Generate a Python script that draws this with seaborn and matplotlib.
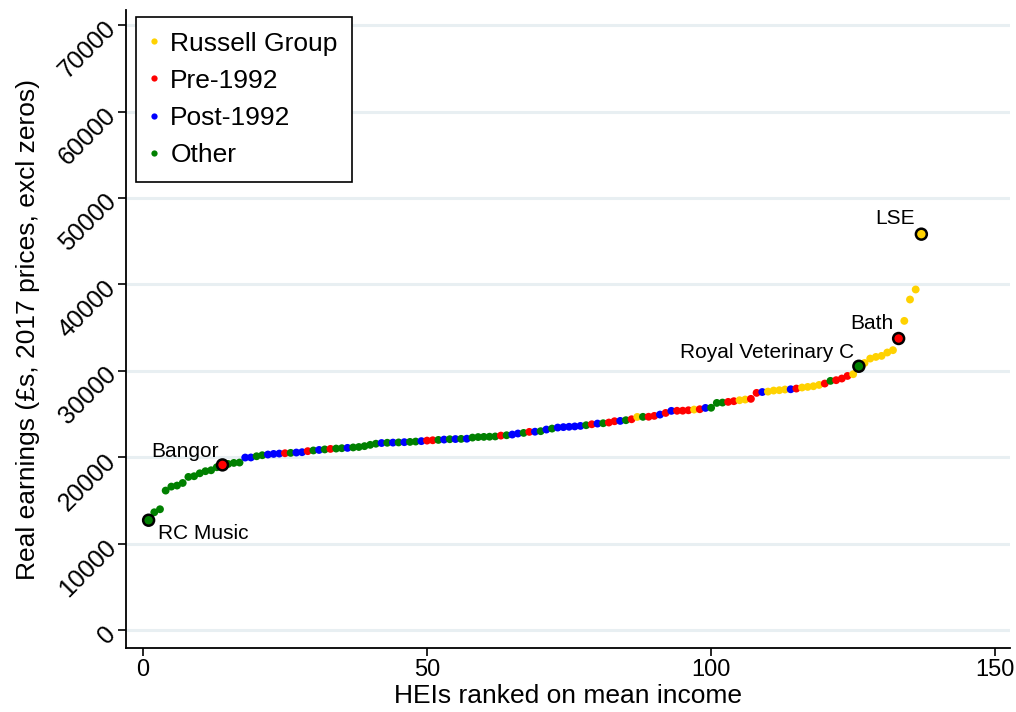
import numpy as np
import pandas as pd
import matplotlib
matplotlib.use("Agg")
import matplotlib.pyplot as plt
from matplotlib.lines import Line2D
import seaborn as sns

# Mean real earnings per HEI (GBP, 2017 prices, excluding zeros), sorted ascending
earnings = [
    12730, 13650, 14000, 16160, 16620, 16740, 17040, 17740, 17820, 18160,
    18400, 18510, 18860, 19130, 19240, 19360, 19400, 19980, 19990, 20130,
    20250, 20330, 20400, 20440, 20480, 20520, 20560, 20600, 20720, 20800,
    20860, 20920, 20980, 21020, 21060, 21100, 21150, 21200, 21300, 21450,
    21580, 21660, 21690, 21710, 21730, 21760, 21790, 21830, 21880, 21940,
    21980, 22020, 22060, 22100, 22120, 22140, 22160, 22290, 22350, 22370,
    22390, 22420, 22520, 22560, 22640, 22760, 22830, 22950, 22970, 23030,
    23220, 23330, 23450, 23500, 23540, 23580, 23640, 23720, 23830, 23910,
    23950, 24030, 24180, 24220, 24300, 24410, 24680, 24690, 24700, 24800,
    24950, 25140, 25380, 25390, 25400, 25450, 25530, 25570, 25720, 25740,
    26300, 26340, 26420, 26500, 26610, 26690, 26770, 27460, 27560, 27610,
    27730, 27770, 27850, 27880, 27960, 28080, 28150, 28230, 28380, 28540,
    28850, 28930, 29120, 29420, 29620, 30540, 30920, 31430, 31620, 31740,
    32130, 32400, 33750, 35790, 38260, 39420, 45820,
]

# Mission group of each HEI in the same order
# Y = Russell Group, R = Pre-1992, B = Post-1992, G = Other
group_codes = (
    "GGGGGGGGGG" "GGGRGGGBBG" "GBBBRGBBRG" "BGRGGBGGGG" "GBGBGBGGBR"
    "RGBGBGBGGG" "GGRGBBGRBG" "BGBBBBBGRB" "GRRBGRYGRR" "BRBRRRYRBG"
    "GGRRYYRRBY" "YYYBRYYYYR" "GRRRYGYYYY" "YYRYYYY"
)
group_names = {"Y": "Russell Group", "R": "Pre-1992", "B": "Post-1992", "G": "Other"}

# Named institutions (rank -> label)
labelled = {1: "RC Music", 14: "Bangor", 126: "Royal Veterinary C", 133: "Bath", 137: "LSE"}

x_ticks = [0, 50, 100, 150]
y_ticks = [0, 10000, 20000, 30000, 40000, 50000, 60000, 70000]

palette = {
    "Russell Group": "#FFD200",
    "Pre-1992": "#FF0000",
    "Post-1992": "#0000FF",
    "Other": "#008000",
}
hue_order = list(palette)

df = pd.DataFrame({
    "rank": np.arange(1, len(earnings) + 1),
    "earnings": earnings,
    "group": [group_names[c] for c in group_codes],
})

sns.set_theme(style="white")
plt.rcParams["font.family"] = ["Liberation Sans", "DejaVu Sans"]
plt.rcParams["text.color"] = "black"
plt.rcParams["axes.labelcolor"] = "black"

fig = plt.figure(figsize=(10.16, 7.12), dpi=100)
W, H = 1016, 712
left, right, top, bottom = 126, 1010, 10, 648
ax = fig.add_axes([left / W, 1 - bottom / H, (right - left) / W, (bottom - top) / H])

for y in y_ticks:
    ax.axhline(y, color="#E8EFF2", lw=2.2, zorder=0)

sns.scatterplot(data=df, x="rank", y="earnings", hue="group", hue_order=hue_order,
                palette=palette, s=32, linewidth=0, legend=False, ax=ax, zorder=3)

hl = df[df["rank"].isin(list(labelled))]
sns.scatterplot(data=hl, x="rank", y="earnings", hue="group", hue_order=hue_order,
                palette=palette, s=62, edgecolor="black", linewidth=1.8,
                legend=False, ax=ax, zorder=4)

offsets = {
    "RC Music": ((6.5, -9.5), "left"),
    "Bangor": ((-3, 10), "right"),
    "Royal Veterinary C": ((-3.5, 10), "right"),
    "Bath": ((-3.5, 11), "right"),
    "LSE": ((-4.5, 11), "right"),
}
for r, name in labelled.items():
    row = df[df["rank"] == r].iloc[0]
    off, ha = offsets[name]
    ax.annotate(name, (row["rank"], row["earnings"]), xytext=off,
                textcoords="offset points", ha=ha, va="center",
                fontsize=15, color="black", zorder=5)

ax.set_xlim(-2.98, 152.6)
ax.set_ylim(-2050, 71750)
ax.set_xticks(x_ticks)
ax.set_yticks(y_ticks)
ax.set_yticklabels([str(v) for v in y_ticks])

for side in ("top", "right"):
    ax.spines[side].set_visible(False)
for side in ("left", "bottom"):
    ax.spines[side].set_color("black")
    ax.spines[side].set_linewidth(1.3)

ax.tick_params(axis="both", which="major", bottom=True, left=True, direction="out",
               length=6, width=1.2, colors="black", labelcolor="black", labelsize=18)
ax.tick_params(axis="x", pad=2, labelsize=17)
ax.tick_params(axis="y", pad=4)
for lab in ax.get_yticklabels():
    lab.set_rotation(45)
    lab.set_ha("right")
    lab.set_va("center")
    lab.set_rotation_mode("anchor")

ax.set_xlabel("HEIs ranked on mean income", fontsize=19, labelpad=2)
ax.set_ylabel("Real earnings (\u00a3s, 2017 prices, excl zeros)", fontsize=19, labelpad=10)

handles = [Line2D([0], [0], marker="o", linestyle="", markersize=4.5,
                  markerfacecolor=palette[g], markeredgewidth=0) for g in hue_order]
leg = ax.legend(handles, hue_order, loc="upper left",
                bbox_to_anchor=((136 - left) / (right - left), 1 - (17 - top) / (bottom - top)),
                borderaxespad=0, frameon=True, fancybox=False, framealpha=1,
                edgecolor="black", fontsize=19, handlelength=0.3, handletextpad=0.45,
                borderpad=0.55, labelspacing=0.5)
leg.get_frame().set_linewidth(1.2)

fig.savefig("out.png", dpi=100, facecolor="white")
